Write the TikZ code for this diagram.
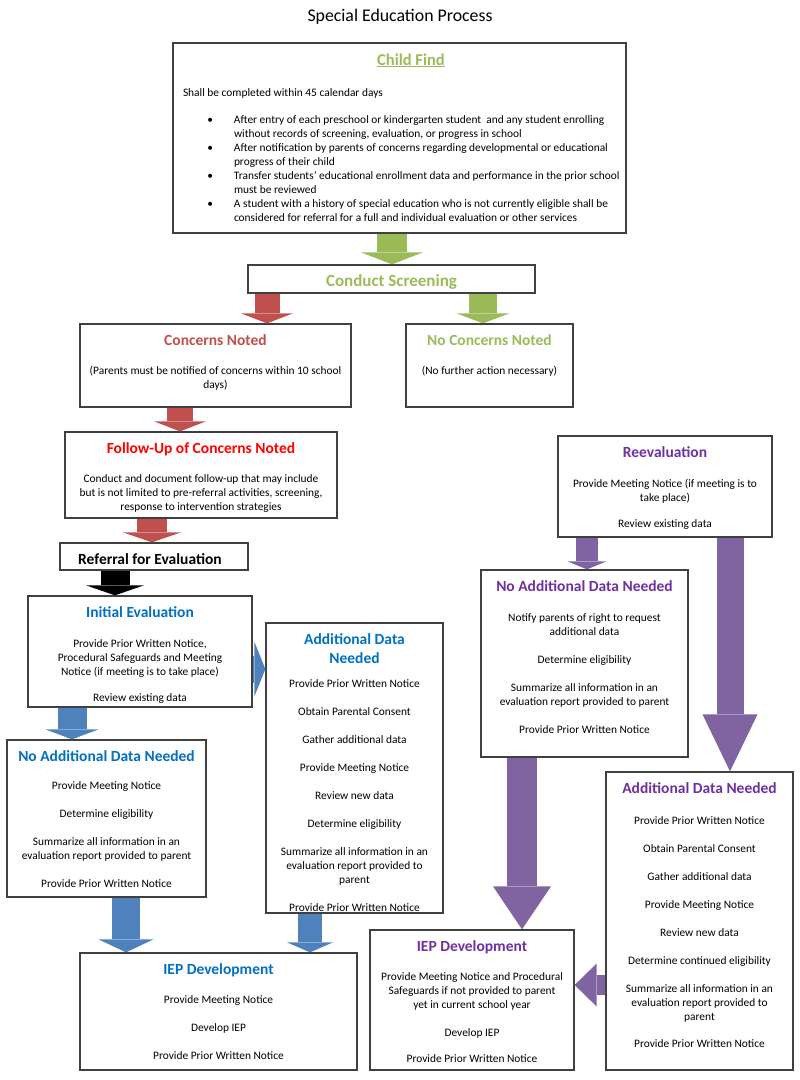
\documentclass[tikz,border=0pt]{standalone}
\usepackage{fontspec}
\setmainfont{Carlito}
\usepackage{tikz}
\usetikzlibrary{arrows.meta}

\definecolor{boxgray}{HTML}{404040}
\definecolor{cfgreen}{HTML}{9BBB59}
\definecolor{cnred}{HTML}{C0504D}
\definecolor{fured}{HTML}{FF0000}
\definecolor{ieblue}{HTML}{0070C0}
\definecolor{arrblue}{HTML}{4F81BD}
\definecolor{repurple}{HTML}{7030A0}
\definecolor{arrpurple}{HTML}{8064A2}

\newcommand{\hd}{\fontsize{15.5}{18}\selectfont\bfseries}
\newcommand{\bd}{\fontsize{11.4}{14}\selectfont}
\newcommand{\boxhead}[2]{{\hd\color{#1}#2}}
\newcommand{\boxtext}[3]{\parbox[c][#2][t]{\dimexpr#1-12pt\relax}{\centering\rule{0pt}{21pt}#3}}
\newcommand{\cfitem}[1]{\par\hangindent=51pt\hangafter=0\noindent\llap{\textbullet\hspace{21pt}}#1\par}

\tikzset{
  box/.style={draw=boxgray, line width=1.3pt, fill=white, inner xsep=6pt, inner ysep=0pt, font=\bd},
  fat/.style n args={4}{draw=#1, line width=#2, line cap=butt, -{Triangle[width=#3, length=#4, line width=0pt]}},
}

\begin{document}
\begin{tikzpicture}[x=1pt, y=-1pt]
    \useasboundingbox (0,0) rectangle (800,1080);
    \node[font=\fontsize{17.8}{21}\selectfont] (title) at (400,17) {Special Education Process};

    \node[box, inner xsep=5pt] (childfind) at (399.5,138) {\parbox[c][190pt][t]{443pt}{\raggedright\leftskip=5pt
        \rule{0pt}{22pt}\makebox[433pt]{\hspace{23pt}{\fontsize{16.5}{19}\selectfont\bfseries\color{cfgreen}\underline{Child Find}}}\par
        \vspace{17pt}Shall be completed within 45 calendar days\par
        \vspace{13pt}
        \cfitem{After entry of each preschool or kindergarten student\ \ and any student enrolling\newline without records of screening, evaluation, or progress in school}
        \cfitem{After notification by parents of concerns regarding developmental or educational\newline progress of their child}
        \cfitem{Transfer students' educational enrollment data and performance in the prior school\newline must be reviewed}
        \cfitem{A student with a history of special education who is not currently eligible shall be\newline considered for referral for a full and individual evaluation or other services}}};
    \node[box] (screen) at (391.5,279) {\boxtext{287pt}{28pt}{\textcolor{cfgreen}{\fontsize{17}{20}\selectfont\bfseries Conduct Screening}}};
    \node[box] (concerns) at (215.5,365.5) {\boxtext{271pt}{83pt}{\boxhead{cnred}{Concerns Noted}\\[15pt]
        (Parents must be notified of concerns within 10 school\\days)}};
    \node[box] (noconcerns) at (489.5,365.5) {\boxtext{167pt}{83pt}{\boxhead{cfgreen}{No Concerns Noted}\\[15pt]
        (No further action necessary)}};
    \node[box] (followup) at (201,475) {\boxtext{272pt}{86pt}{\boxhead{fured}{Follow-Up of Concerns Noted}\\[15pt]
        Conduct and document follow-up that may include\\but is not limited to pre-referral activities, screening,\\response to intervention strategies}};
    \node[box] (referral) at (154,556.5) {\boxtext{188pt}{27pt}{\hspace{-8pt}{\fontsize{15.5}{18}\selectfont\bfseries Referral for Evaluation}}};
    \node[box] (initeval) at (140,651.5) {\boxtext{224pt}{111pt}{\boxhead{ieblue}{Initial Evaluation}\\[16pt]
        Provide Prior Written Notice,\\Procedural Safeguards and Meeting\\Notice (if meeting is to take place)\\[12pt]
        Review existing data}};
    \node[box] (noaddb) at (106.5,818.5) {\boxtext{199pt}{157pt}{\boxhead{ieblue}{No Additional Data Needed}\\[14pt]
        Provide Meeting Notice\\[14pt]
        Determine eligibility\\[14pt]
        Summarize all information in an\\evaluation report provided to parent\\[14pt]
        Provide Prior Written Notice}};
    \node[box] (adddatab) at (354.5,768) {\boxtext{177pt}{290pt}{\boxhead{ieblue}{Additional Data\\[5pt]Needed}\\[10pt]
        Provide Prior Written Notice\\[14pt]
        Obtain Parental Consent\\[14pt]
        Gather additional data\\[14pt]
        Provide Meeting Notice\\[14pt]
        Review new data\\[14pt]
        Determine eligibility\\[14pt]
        Summarize all information in an\\evaluation report provided to\\parent\\[14pt]
        Provide Prior Written Notice}};
    \node[box] (iepb) at (218.5,1011.5) {\boxtext{277pt}{117pt}{\boxhead{ieblue}{IEP Development}\\[15pt]
        Provide Meeting Notice\\[14pt]
        Develop IEP\\[14pt]
        Provide Prior Written Notice}};
    \node[box] (reeval) at (665,486.5) {\boxtext{214pt}{101pt}{\boxhead{repurple}{Reevaluation}\\[16pt]
        Provide Meeting Notice (if meeting is to\\take place)\\[12pt]
        Review existing data}};
    \node[box] (noaddp) at (584.5,663.5) {\boxtext{207pt}{187pt}{\boxhead{repurple}{No Additional Data Needed}\\[16pt]
        Notify parents of right to request\\additional data\\[14pt]
        Determine eligibility\\[14pt]
        Summarize all information in an\\evaluation report provided to parent\\[14pt]
        Provide Prior Written Notice}};
    \node[box] (adddatap) at (699.5,921) {\boxtext{187pt}{298pt}{\boxhead{repurple}{Additional Data Needed}\\[17pt]
        Provide Prior Written Notice\\[14pt]
        Obtain Parental Consent\\[14pt]
        Gather additional data\\[14pt]
        Provide Meeting Notice\\[14pt]
        Review new data\\[14pt]
        Determine continued eligibility\\[14pt]
        Summarize all information in an\\evaluation report provided to\\parent\\[13pt]
        Provide Prior Written Notice}};
    \node[box] (iepp) at (472,1000) {\boxtext{204pt}{140pt}{\boxhead{repurple}{IEP Development}\\[15pt]
        Provide Meeting Notice and Procedural\\Safeguards if not provided to parent\\yet in current school year\\[14pt]
        Develop IEP\\[12pt]
        Provide Prior Written Notice}};

    \draw[fat={cfgreen}{30pt}{62pt}{12pt}] (childfind.south -| 392,0) -- (screen.north -| 392,0);
    \draw[fat={cnred}{25pt}{52pt}{10pt}] (screen.south -| 267,0) -- (concerns.north -| 267,0);
    \draw[fat={cfgreen}{28pt}{53pt}{10pt}] (screen.south -| 483,0) -- (noconcerns.north -| 483,0);
    \draw[fat={cnred}{26pt}{52pt}{10pt}] (concerns.south -| 180,0) -- (followup.north -| 180,0);
    \draw[fat={cnred}{30pt}{58pt}{10pt}] (followup.south -| 152,0) -- (referral.north -| 152,0);
    \draw[fat={black}{29pt}{58pt}{10pt}] (referral.south -| 115,0) -- (initeval.north -| 115,0);
    \draw[fat={arrblue}{27pt}{55pt}{11pt}] (initeval.east |- 0,669) -- (adddatab.west |- 0,669);
    \draw[fat={arrblue}{29pt}{53pt}{10pt}] (initeval.south -| 72,0) -- (noaddb.north -| 72,0);
    \draw[fat={arrblue}{28pt}{55pt}{13pt}] (noaddb.south -| 126,0) -- (iepb.north -| 126,0);
    \draw[fat={arrblue}{24pt}{46pt}{10pt}] (adddatab.south -| 310,0) -- (iepb.north -| 310,0);
    \draw[fat={arrpurple}{22pt}{39pt}{8pt}] (reeval.south -| 587,0) -- (noaddp.north -| 587,0);
    \draw[fat={arrpurple}{27pt}{55pt}{57pt}] (reeval.south -| 730,0) -- (adddatap.north -| 730,0);
    \draw[fat={arrpurple}{30pt}{58pt}{43pt}] (noaddp.south -| 522,0) -- (iepp.north -| 522,0);
    \draw[fat={arrpurple}{20pt}{43pt}{22pt}] (adddatap.west |- 0,985) -- (iepp.east |- 0,985);
\end{tikzpicture}
\end{document}
